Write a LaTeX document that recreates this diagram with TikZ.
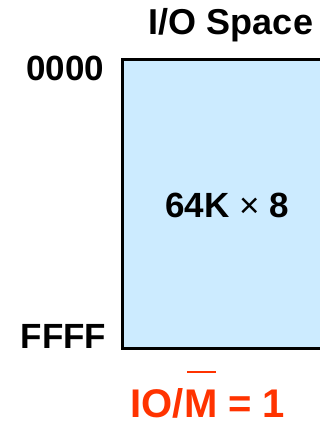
\documentclass[tikz,border=0pt]{standalone}
\usepackage{fontspec}
\setmainfont{Liberation Sans}
\usetikzlibrary{positioning}
\definecolor{spaceblue}{RGB}{204,235,255}
\definecolor{signalred}{RGB}{255,51,0}
% M with a bar set high above it
\newcommand{\ovM}{\rlap{\hspace{0.08em}\raisebox{1.1em}{\rule{0.72em}{0.05em}}}M}
\tikzset{
  bigtext/.style={font=\bfseries\fontsize{35}{40}\selectfont, inner sep=0pt},
  addr/.style={bigtext, anchor=base east},
  spacebox/.style={draw=black, line width=3pt, fill=spaceblue, minimum width=208pt, minimum height=288pt, inner sep=0pt}
}

\begin{document}
\begin{tikzpicture}[x=1pt, y=-1pt]
\useasboundingbox (0,0) rectangle (320,427);

% memory block
\node (io) [spacebox] at (226,204) {};
\node (size) [bigtext, anchor=base] at (227,218) {64K {\mdseries ×} 8};

% title and address labels
\node (title) [bigtext, font=\bfseries\fontsize{36}{40}\selectfont, anchor=base] at (231,35) {I/O Space};
\node (first) [addr, left=16pt of io.north west, anchor=base east, yshift=-22pt] {0000};
\node (last) [addr, left=14pt of io.south west, anchor=base east, yshift=1pt] {FFFF};

% control signal
\node (sig) [bigtext, font=\bfseries\fontsize{40}{46}\selectfont, text=signalred, text depth=0pt, anchor=base] at (208,417) {IO/\ovM{} = 1};

\end{tikzpicture}
\end{document}
